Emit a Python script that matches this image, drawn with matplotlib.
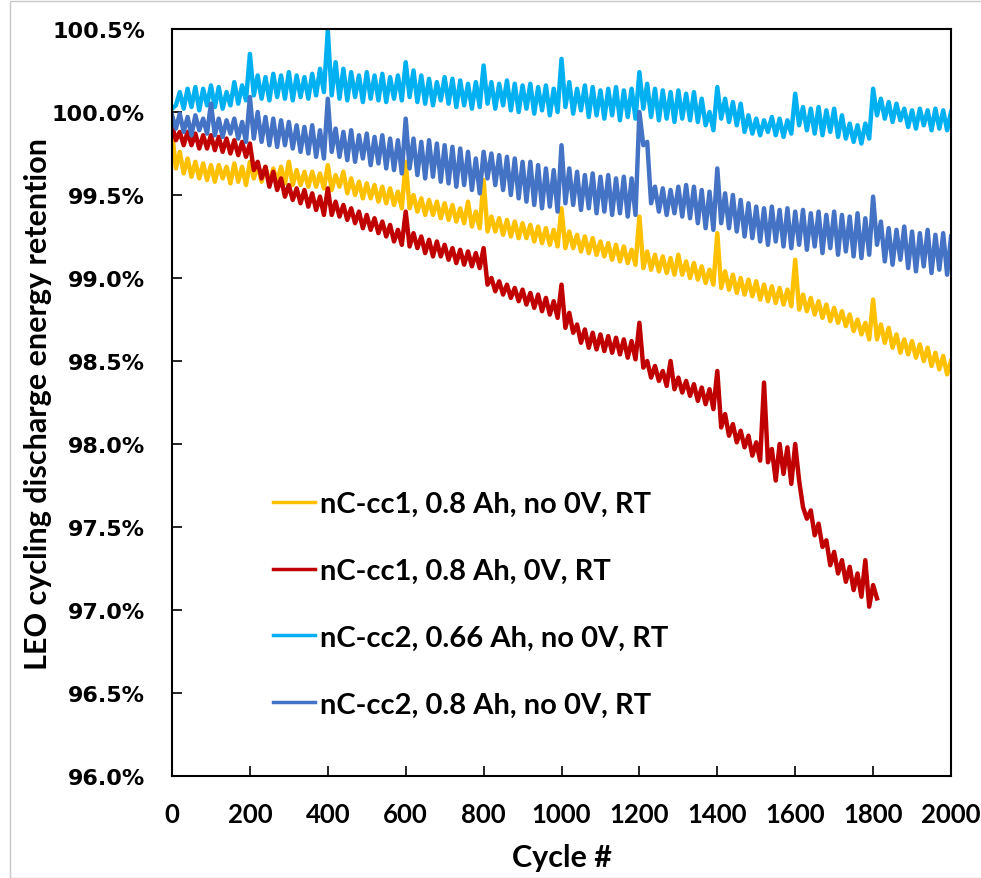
import numpy as np
import matplotlib
matplotlib.use("Agg")
import matplotlib.pyplot as plt
from matplotlib.ticker import FuncFormatter
from matplotlib.patches import Rectangle

# retention (%) read every 20 cycles at the top of each tooth, and at the dip in between
yellow_top = [99.88, 99.76, 99.72, 99.70, 99.69, 99.68, 99.68, 99.67, 99.69, 99.67,
              99.70, 99.68, 99.67, 99.66, 99.67, 99.70, 99.65, 99.64, 99.64, 99.63,
              99.68, 99.62, 99.64, 99.60, 99.58, 99.57, 99.56, 99.55, 99.54, 99.52,
              99.70, 99.50, 99.48, 99.47, 99.46, 99.45, 99.44, 99.42, 99.46, 99.40,
              99.59, 99.37, 99.36, 99.35, 99.34, 99.33, 99.32, 99.31, 99.30, 99.29,
              99.42, 99.28, 99.26, 99.25, 99.24, 99.22, 99.21, 99.20, 99.19, 99.17,
              99.37, 99.16, 99.14, 99.13, 99.12, 99.14, 99.10, 99.09, 99.07, 99.05,
              99.27, 99.04, 99.02, 99.00, 98.99, 98.98, 98.96, 98.95, 98.94, 98.93,
              99.11, 98.90, 98.88, 98.86, 98.84, 98.82, 98.80, 98.78, 98.75, 98.73,
              98.87, 98.72, 98.70, 98.66, 98.63, 98.62, 98.60, 98.58, 98.55, 98.53,
              98.50]
yellow_dip = [99.66, 99.63, 99.61, 99.60, 99.59, 99.58, 99.60, 99.57, 99.58, 99.56,
              99.60, 99.58, 99.57, 99.58, 99.57, 99.56, 99.56, 99.55, 99.55, 99.54,
              99.53, 99.55, 99.51, 99.50, 99.48, 99.48, 99.46, 99.45, 99.44, 99.42,
              99.42, 99.40, 99.38, 99.38, 99.36, 99.35, 99.34, 99.33, 99.31, 99.30,
              99.28, 99.28, 99.26, 99.25, 99.24, 99.24, 99.22, 99.21, 99.20, 99.19,
              99.18, 99.18, 99.16, 99.15, 99.14, 99.13, 99.11, 99.10, 99.09, 99.08,
              99.06, 99.05, 99.04, 99.03, 99.02, 99.02, 99.00, 98.99, 98.97, 98.96,
              98.94, 98.93, 98.91, 98.90, 98.89, 98.87, 98.86, 98.85, 98.84, 98.83,
              98.81, 98.80, 98.78, 98.76, 98.74, 98.73, 98.71, 98.68, 98.66, 98.63,
              98.63, 98.61, 98.58, 98.55, 98.54, 98.52, 98.50, 98.47, 98.45, 98.42]

red_top = [99.92, 99.88, 99.88, 99.87, 99.86, 99.86, 99.85, 99.84, 99.83, 99.82,
           99.81, 99.70, 99.67, 99.64, 99.60, 99.56, 99.54, 99.53, 99.51, 99.49,
           99.54, 99.46, 99.44, 99.42, 99.40, 99.38, 99.36, 99.34, 99.32, 99.29,
           99.40, 99.27, 99.25, 99.23, 99.22, 99.20, 99.18, 99.17, 99.16, 99.15,
           99.18, 99.00, 98.98, 98.96, 98.94, 98.93, 98.91, 98.90, 98.88, 98.86,
           98.96, 98.79, 98.72, 98.69, 98.67, 98.66, 98.65, 98.64, 98.63, 98.62,
           98.73, 98.50, 98.47, 98.44, 98.50, 98.40, 98.38, 98.36, 98.34, 98.33,
           98.44, 98.18, 98.12, 98.08, 98.05, 98.01, 98.37, 97.97, 98.00, 97.98,
           98.00, 97.62, 97.60, 97.52, 97.42, 97.35, 97.30, 97.26, 97.22, 97.30,
           97.15]
red_dip = [99.83, 99.80, 99.80, 99.78, 99.78, 99.77, 99.76, 99.75, 99.74, 99.73,
           99.65, 99.60, 99.55, 99.53, 99.49, 99.47, 99.45, 99.43, 99.41, 99.38,
           99.38, 99.37, 99.35, 99.33, 99.30, 99.29, 99.27, 99.25, 99.22, 99.20,
           99.19, 99.18, 99.15, 99.13, 99.13, 99.11, 99.09, 99.08, 99.07, 99.06,
           98.96, 98.92, 98.90, 98.88, 98.86, 98.84, 98.82, 98.80, 98.78, 98.76,
           98.70, 98.67, 98.61, 98.58, 98.57, 98.56, 98.55, 98.54, 98.52, 98.51,
           98.46, 98.40, 98.38, 98.35, 98.33, 98.31, 98.29, 98.26, 98.24, 98.21,
           98.10, 98.05, 98.01, 97.98, 97.93, 97.90, 97.89, 97.78, 97.82, 97.76,
           97.78, 97.55, 97.45, 97.38, 97.27, 97.22, 97.17, 97.12, 97.08, 97.02,
           97.07]

cyan_top = [100.02, 100.12, 100.14, 100.15, 100.14, 100.16, 100.15, 100.12, 100.18, 100.16,
            100.35, 100.22, 100.21, 100.23, 100.22, 100.24, 100.22, 100.21, 100.23, 100.26,
            100.49, 100.30, 100.26, 100.24, 100.22, 100.24, 100.22, 100.23, 100.21, 100.22,
            100.30, 100.25, 100.22, 100.20, 100.18, 100.21, 100.20, 100.19, 100.17, 100.18,
            100.28, 100.18, 100.17, 100.19, 100.17, 100.16, 100.17, 100.15, 100.16, 100.14,
            100.32, 100.18, 100.14, 100.16, 100.15, 100.13, 100.14, 100.15, 100.13, 100.14,
            100.24, 100.17, 100.14, 100.13, 100.12, 100.13, 100.11, 100.12, 100.08, 100.00,
            100.15, 100.08, 100.06, 100.05, 99.98, 99.96, 99.95, 99.97, 99.96, 99.95,
            100.11, 100.03, 100.02, 100.03, 100.01, 100.02, 99.98, 99.93, 99.92, 99.93,
            100.14, 100.08, 100.06, 100.05, 100.02, 100.01, 100.02, 100.01, 100.02, 100.01,
            100.00]
cyan_dip = [100.04, 100.02, 100.03, 100.01, 100.04, 100.03, 100.02, 100.04, 100.05, 100.07,
            100.10, 100.08, 100.07, 100.09, 100.08, 100.07, 100.09, 100.08, 100.10, 100.12,
            100.10, 100.08, 100.07, 100.09, 100.06, 100.08, 100.07, 100.06, 100.08, 100.07,
            100.09, 100.06, 100.05, 100.04, 100.07, 100.05, 100.03, 100.04, 100.02, 100.03,
            100.05, 100.02, 100.04, 100.01, 100.00, 100.02, 99.99, 100.01, 99.98, 100.00,
            100.03, 99.99, 100.01, 99.97, 99.98, 99.96, 99.98, 99.95, 99.97, 99.96,
            100.02, 99.97, 99.95, 99.96, 99.94, 99.96, 99.95, 99.94, 99.92, 99.89,
            99.96, 99.94, 99.92, 99.88, 99.87, 99.86, 99.88, 99.86, 99.85, 99.87,
            99.92, 99.89, 99.87, 99.86, 99.88, 99.85, 99.84, 99.82, 99.81, 99.84,
            99.98, 99.96, 99.94, 99.95, 99.91, 99.90, 99.92, 99.89, 99.90, 99.89]

blue_top = [99.98, 99.99, 99.97, 99.98, 99.96, 100.05, 99.96, 99.95, 99.96, 99.94,
            100.09, 100.00, 99.97, 99.96, 99.95, 99.94, 99.92, 99.91, 99.92, 99.89,
            100.08, 99.90, 99.88, 99.89, 99.86, 99.87, 99.85, 99.86, 99.84, 99.83,
            99.96, 99.84, 99.82, 99.83, 99.81, 99.80, 99.79, 99.78, 99.76, 99.72,
            99.76, 99.75, 99.74, 99.73, 99.72, 99.70, 99.70, 99.68, 99.66, 99.65,
            99.80, 99.66, 99.64, 99.62, 99.63, 99.61, 99.62, 99.60, 99.61, 99.60,
            100.00, 99.82, 99.55, 99.54, 99.53, 99.55, 99.56, 99.55, 99.53, 99.52,
            99.66, 99.51, 99.50, 99.47, 99.45, 99.43, 99.42, 99.43, 99.41, 99.42,
            99.40, 99.41, 99.39, 99.40, 99.38, 99.40, 99.38, 99.37, 99.39, 99.36,
            99.49, 99.34, 99.30, 99.29, 99.31, 99.28, 99.27, 99.29, 99.26, 99.27,
            99.25]
blue_dip = [99.90, 99.88, 99.86, 99.89, 99.87, 99.86, 99.85, 99.87, 99.84, 99.82,
            99.84, 99.82, 99.80, 99.79, 99.80, 99.78, 99.76, 99.75, 99.73, 99.72,
            99.76, 99.73, 99.71, 99.70, 99.72, 99.68, 99.69, 99.66, 99.65, 99.63,
            99.66, 99.62, 99.60, 99.61, 99.58, 99.57, 99.55, 99.56, 99.53, 99.51,
            99.60, 99.56, 99.53, 99.50, 99.48, 99.46, 99.44, 99.42, 99.43, 99.40,
            99.45, 99.44, 99.41, 99.42, 99.39, 99.40, 99.38, 99.39, 99.37, 99.38,
            99.80, 99.45, 99.40, 99.38, 99.39, 99.37, 99.36, 99.33, 99.30, 99.29,
            99.33, 99.30, 99.28, 99.25, 99.24, 99.22, 99.20, 99.22, 99.19, 99.18,
            99.20, 99.17, 99.19, 99.15, 99.18, 99.14, 99.16, 99.13, 99.12, 99.14,
            99.20, 99.10, 99.08, 99.11, 99.06, 99.04, 99.07, 99.03, 99.05, 99.02]

labels = ["nC-cc1, 0.8 Ah, no 0V, RT",
          "nC-cc1, 0.8 Ah, 0V, RT",
          "nC-cc2, 0.66 Ah, no 0V, RT",
          "nC-cc2, 0.8 Ah, no 0V, RT"]
colors = ["#FFC000", "#C00000", "#00B0F0", "#4472C4"]
x_ticks = np.arange(0, 2001, 200)
y_ticks = np.arange(96.0, 100.51, 0.5)


def teeth(top, dip):
    # tops sit on even 20-cycle marks, dips halfway between
    y = np.empty(len(top) + len(dip))
    y[0::2] = top
    y[1::2] = dip
    x = np.arange(len(y)) * 10
    return x, y


series = [teeth(yellow_top, yellow_dip), teeth(red_top, red_dip),
          teeth(cyan_top, cyan_dip), teeth(blue_top, blue_dip)]

fig = plt.figure(figsize=(9.81, 8.79), dpi=100)
ax = fig.add_axes([172 / 981, 1 - 777 / 879, 779 / 981, 747 / 879])

for (x, y), c, lab in zip(series, colors, labels):
    ax.plot(x, y, color=c, lw=3.2, label=lab, solid_joinstyle="round")

ax.set_xlim(0, 2000)
ax.set_ylim(96.0, 100.5)
ax.set_xticks(x_ticks)
ax.set_yticks(y_ticks)
ax.yaxis.set_major_formatter(FuncFormatter(lambda v, p: "%.1f%%" % v))

for s in ax.spines.values():
    s.set_linewidth(1.5)
    s.set_color("black")
ax.tick_params(axis="both", direction="in", length=7, width=1.2)
ax.tick_params(axis="y", pad=19.5)
ax.tick_params(axis="x", pad=19)
for t in ax.get_yticklabels():
    t.set_fontfamily("DejaVu Sans")
    t.set_fontweight("bold")
    t.set_fontsize(16)
for t in ax.get_xticklabels():
    t.set_fontfamily("Lato")
    t.set_fontweight("bold")
    t.set_fontsize(18.5)

ax.set_xlabel("Cycle #", fontfamily="Lato", fontweight="bold", fontsize=22, labelpad=12)
ax.set_ylabel("LEO cycling discharge energy retention", fontfamily="Lato",
              fontweight="bold", fontsize=22, labelpad=-0.5)

leg = ax.legend(loc="upper left", bbox_to_anchor=(273 / 981, 1 - 492 / 879),
                bbox_transform=fig.transFigure, frameon=False, borderpad=0,
                borderaxespad=0, handlelength=1.45, handletextpad=0.17,
                labelspacing=1.4,
                prop={"family": "Lato", "weight": "bold", "size": 21})
for h in leg.get_lines():
    h.set_linewidth(2.5)

# light chart-area border
fig.patches.append(Rectangle((10 / 981, 0), 1, 1 - 2 / 879, transform=fig.transFigure,
                             fill=False, edgecolor="#c8c8c8", lw=1))

fig.savefig("out.png", dpi=100)
